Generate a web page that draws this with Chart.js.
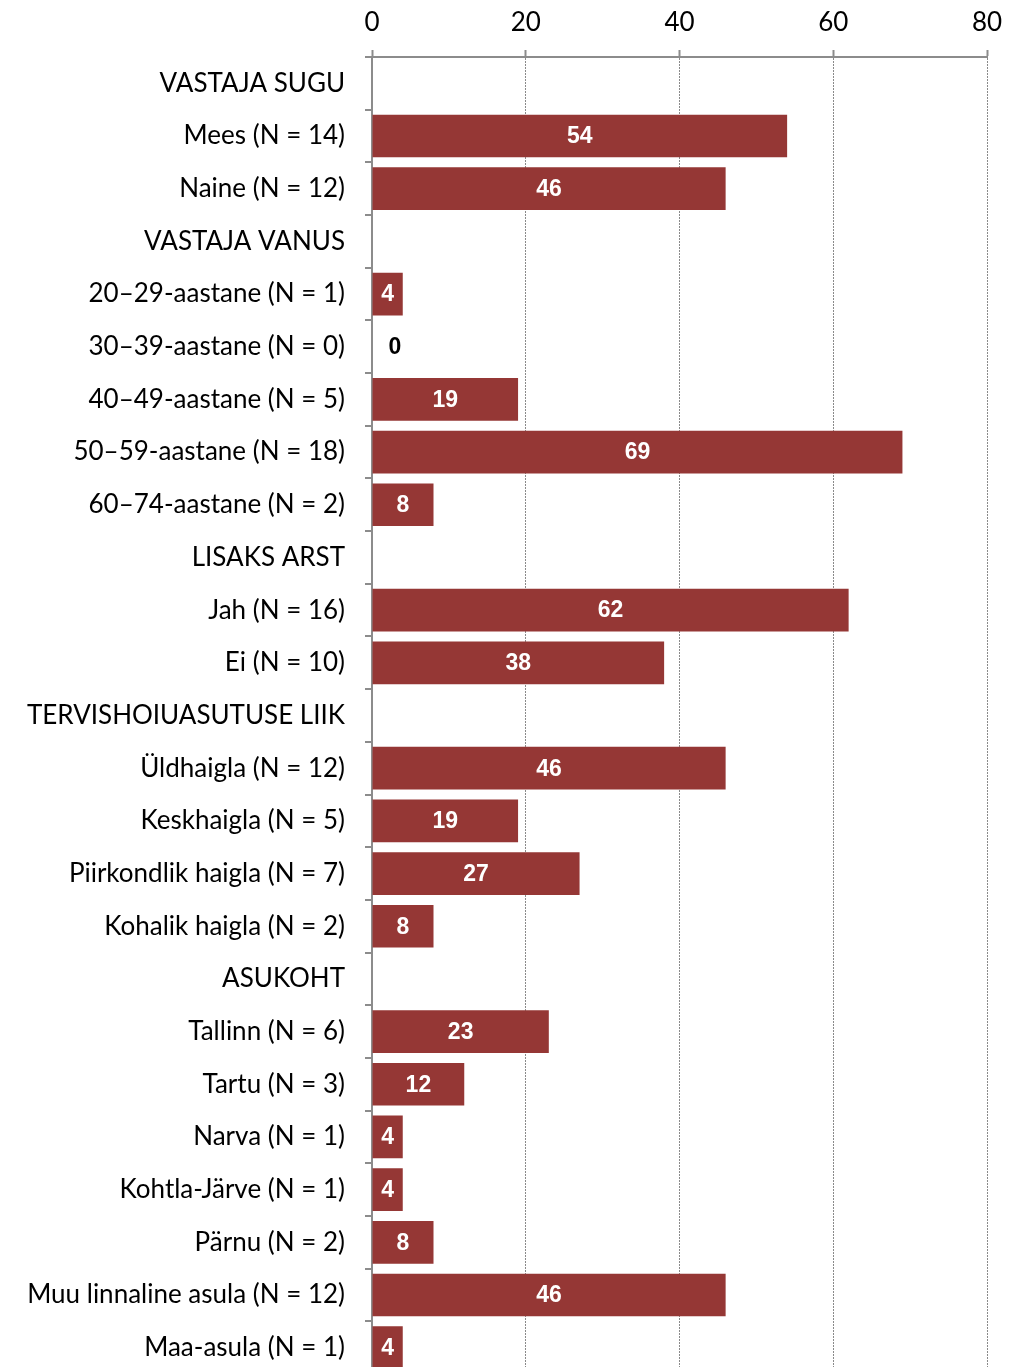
<!DOCTYPE html>
<html>
<head>
<meta charset="utf-8">
<script src="https://cdn.jsdelivr.net/npm/chart.js@4/dist/chart.umd.min.js"></script>
<style>
  html, body { margin: 0; padding: 0; background: #fff; overflow: hidden; }
  #wrap { width: 1011px; height: 1367px; overflow: hidden; }
  #chart { display: block; }
</style>
</head>
<body>
<div id="wrap"><canvas id="chart" width="1011" height="1380"></canvas></div>
<script>
// categories (group headers have no value)
let categories = [
  'VASTAJA SUGU', 'Mees (N = 14)', 'Naine (N = 12)',
  'VASTAJA VANUS', '20–29-aastane (N = 1)', '30–39-aastane (N = 0)', '40–49-aastane (N = 5)',
  '50–59-aastane (N = 18)', '60–74-aastane (N = 2)',
  'LISAKS ARST', 'Jah (N = 16)', 'Ei (N = 10)',
  'TERVISHOIUASUTUSE LIIK', 'Üldhaigla (N = 12)', 'Keskhaigla (N = 5)', 'Piirkondlik haigla (N = 7)', 'Kohalik haigla (N = 2)',
  'ASUKOHT', 'Tallinn (N = 6)', 'Tartu (N = 3)', 'Narva (N = 1)', 'Kohtla-Järve (N = 1)', 'Pärnu (N = 2)',
  'Muu linnaline asula (N = 12)', 'Maa-asula (N = 1)'
];
let percents = [
  null, 54, 46,
  null, 4, 0, 19, 69, 8,
  null, 62, 38,
  null, 46, 19, 27, 8,
  null, 23, 12, 4, 4, 8, 46, 4
];
let xTicks = [0, 20, 40, 60, 80];

const barColor = '#953735';
const axisGray = '#8c8c8c';
const labelFont = { family: 'Lato, "Open Sans", sans-serif', size: 26 };

// value labels: white inside the bar, black just after the axis for zero
const valueLabels = {
  id: 'valueLabels',
  afterDatasetsDraw(chart) {
    const ctx = chart.ctx;
    const meta = chart.getDatasetMeta(0);
    ctx.save();
    ctx.font = 'bold 23px "Liberation Sans", Arial, sans-serif';
    ctx.textAlign = 'center';
    ctx.textBaseline = 'middle';
    meta.data.forEach((bar, i) => {
      const v = percents[i];
      if (v === null) return;
      if (v > 0) {
        ctx.fillStyle = '#ffffff';
        ctx.fillText(String(v), (bar.base + bar.x) / 2, bar.y + 1);
      } else {
        ctx.fillStyle = '#000000';
        ctx.fillText(String(v), bar.base + 23, bar.y + 1);
      }
    });
    ctx.restore();
  }
};

new Chart(document.getElementById('chart').getContext('2d'), {
  type: 'bar',
  data: {
    labels: categories,
    datasets: [{
      data: percents,
      backgroundColor: barColor,
      borderWidth: 0,
      categoryPercentage: 1,
      barPercentage: 0.81
    }]
  },
  options: {
    indexAxis: 'y',
    responsive: false,
    animation: false,
    layout: { padding: { left: 0, right: 24, top: 0, bottom: 6 } },
    plugins: {
      legend: { display: false },
      tooltip: { enabled: false }
    },
    scales: {
      x: {
        position: 'top',
        min: 0,
        max: 80,
        afterBuildTicks(scale) { scale.ticks = xTicks.map(v => ({ value: v })); },
        afterFit(scale) {
          scale.height = 57;
          scale.paddingLeft = 0;
          scale.paddingRight = 0;
        },
        ticks: {
          color: '#000',
          font: labelFont,
          padding: 12
        },
        grid: {
          color: '#8a8a8a',
          lineWidth: 1,
          drawTicks: true,
          tickLength: 7,
          tickColor: axisGray,
          tickWidth: 2
        },
        border: { display: true, color: axisGray, width: 2, dash: [2, 1] }
      },
      y: {
        afterFit(scale) {
          scale.width = 372;
          scale.paddingTop = 0;
          scale.paddingBottom = 0;
        },
        ticks: {
          color: '#000',
          font: labelFont,
          padding: 20
        },
        grid: {
          offset: true,
          drawOnChartArea: false,
          drawTicks: true,
          tickLength: 7,
          color: axisGray,
          lineWidth: 2
        },
        border: { display: true, color: axisGray, width: 2 }
      }
    }
  },
  plugins: [valueLabels]
});
</script>
</body>
</html>
